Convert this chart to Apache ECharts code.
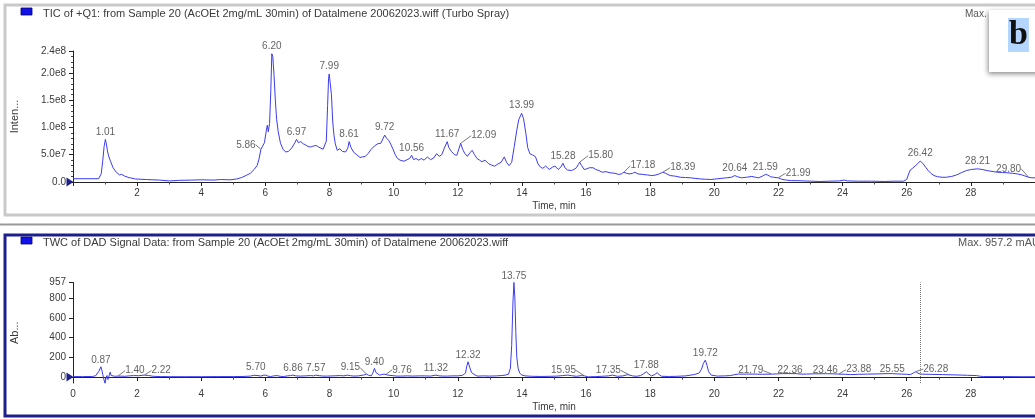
<!DOCTYPE html>
<html>
<head>
<meta charset="utf-8">
<script src="https://cdn.jsdelivr.net/npm/echarts@6/dist/echarts.min.js"></script>
<style>
  html, body { margin: 0; padding: 0; background: #fff; }
  #chart { width: 1035px; height: 419px; }
</style>
</head>
<body>
<div id="chart"></div>
<script>
// ---- TIC of +Q1 (Turbo Spray): [retention time (min), intensity in units of 1e7 counts]
const ticTrace = [
  [0.00,0.6],[0.40,0.6],[0.80,0.6],[0.88,1.5],[0.93,4.0],[0.97,6.5],[1.01,7.8],[1.04,7.0],[1.08,5.5],[1.12,4.6],
  [1.17,3.8],[1.25,2.6],[1.35,1.8],[1.45,1.3],[1.52,1.4],[1.60,1.1],[1.75,0.8],[1.95,0.55],[2.30,0.45],[2.70,0.35],
  [3.00,0.2],[3.30,0.3],[3.70,0.35],[4.00,0.4],[4.40,0.35],[4.60,0.45],[4.90,0.4],[5.10,0.55],[5.25,0.8],[5.40,1.2],
  [5.53,1.6],[5.65,2.3],[5.74,3.0],[5.80,4.2],[5.86,6.0],[5.92,6.3],[5.97,7.2],[6.03,9.5],[6.06,10.4],[6.09,9.2],
  [6.13,10.7],[6.17,17.0],[6.20,23.5],[6.23,23.0],[6.27,19.5],[6.31,15.0],[6.35,11.5],[6.40,9.2],[6.47,7.1],[6.55,6.0],
  [6.63,5.5],[6.72,5.6],[6.83,6.3],[6.92,7.2],[6.97,7.8],[7.03,7.2],[7.10,7.4],[7.18,7.0],[7.25,6.8],[7.33,6.5],
  [7.41,6.4],[7.50,6.6],[7.58,6.7],[7.66,6.4],[7.72,6.2],[7.80,6.0],[7.86,5.8],[7.90,7.5],[7.94,14.0],[7.97,19.0],
  [7.99,19.8],[8.03,19.6],[8.06,16.0],[8.10,11.0],[8.14,8.5],[8.18,7.0],[8.24,5.8],[8.32,6.1],[8.40,5.6],[8.50,5.5],
  [8.57,6.2],[8.61,7.4],[8.67,6.3],[8.76,5.4],[8.85,5.0],[8.95,4.5],[9.03,4.6],[9.12,4.7],[9.20,5.2],[9.30,6.0],
  [9.40,6.6],[9.50,7.0],[9.60,7.1],[9.66,6.9],[9.72,8.6],[9.78,8.0],[9.85,7.6],[9.92,6.8],[9.98,6.0],[10.05,5.0],
  [10.12,4.3],[10.20,4.0],[10.32,3.8],[10.42,4.1],[10.50,4.3],[10.56,4.9],[10.62,4.1],[10.70,4.3],[10.78,4.0],[10.86,4.3],
  [10.95,4.0],[11.05,4.6],[11.15,4.1],[11.25,4.4],[11.34,5.2],[11.42,4.7],[11.50,5.0],[11.58,6.2],[11.63,6.0],[11.67,7.4],
  [11.72,6.3],[11.80,5.6],[11.90,5.0],[11.97,4.9],[12.04,6.2],[12.09,7.1],[12.15,6.0],[12.22,5.2],[12.30,4.7],[12.38,5.4],
  [12.45,5.8],[12.52,5.0],[12.60,4.3],[12.68,4.0],[12.75,3.7],[12.85,4.0],[12.95,3.4],[13.05,3.1],[13.15,2.9],[13.25,3.3],
  [13.35,3.6],[13.45,4.6],[13.52,3.6],[13.60,3.0],[13.68,3.6],[13.76,6.5],[13.84,9.5],[13.90,11.4],[13.99,12.6],[14.05,11.6],
  [14.12,9.0],[14.18,6.3],[14.25,5.17],[14.33,4.96],[14.42,4.66],[14.50,3.33],[14.58,2.71],[14.65,2.51],[14.74,2.92],[14.85,2.3],
  [14.95,2.71],[15.03,2.92],[15.13,2.3],[15.21,2.71],[15.28,3.43],[15.34,2.61],[15.42,2.2],[15.54,2.1],[15.62,2.3],[15.70,2.61],
  [15.76,3.22],[15.80,3.63],[15.86,3.02],[15.94,2.3],[16.02,2.4],[16.10,2.61],[16.16,2.81],[16.22,2.61],[16.30,2.3],[16.40,2.1],
  [16.50,1.79],[16.62,1.89],[16.75,1.69],[16.90,1.59],[17.02,1.38],[17.10,1.48],[17.18,1.79],[17.26,1.59],[17.35,1.48],[17.45,1.59],
  [17.52,1.79],[17.62,1.48],[17.78,1.38],[17.92,1.28],[18.05,1.18],[18.18,1.28],[18.28,1.48],[18.39,1.79],[18.48,1.59],[18.62,1.18],
  [18.78,1.07],[18.94,0.87],[19.10,0.82],[19.26,0.77],[19.40,0.66],[19.57,0.56],[19.72,0.51],[19.89,0.46],[20.05,0.56],[20.21,0.66],
  [20.38,0.77],[20.53,0.87],[20.64,1.18],[20.72,0.97],[20.85,0.77],[21.00,0.87],[21.17,1.02],[21.28,0.87],[21.38,0.77],[21.50,1.07],
  [21.59,1.38],[21.67,1.28],[21.75,0.97],[21.85,0.87],[21.99,0.77],[22.10,0.51],[22.23,0.36],[22.40,0.25],[22.55,0.25],[22.80,0.2],
  [23.00,0.15],[23.30,0.1],[23.60,0.15],[23.90,0.2],[24.05,0.36],[24.15,0.2],[24.50,0.15],[24.90,0.15],[25.30,0.1],[25.60,0.15],
  [25.90,0.15],[26.00,0.46],[26.06,1.48],[26.11,2.2],[26.18,2.51],[26.26,2.92],[26.34,3.33],[26.42,3.84],[26.50,3.43],[26.59,2.71],
  [26.67,2.1],[26.75,1.59],[26.85,1.18],[26.96,0.97],[27.10,0.87],[27.23,0.87],[27.40,1.02],[27.55,1.28],[27.70,1.69],[27.86,2.1],
  [28.02,2.3],[28.21,2.41],[28.35,2.3],[28.50,2.1],[28.66,1.94],[28.82,1.79],[28.98,1.74],[29.13,1.69],[29.30,1.59],[29.45,1.48],
  [29.60,1.28],[29.70,1.07],[29.80,0.87],[29.90,0.77],[30.00,0.77]
];
// Labelled TIC peaks: retention time (min) and apex intensity (1e7 counts)
const ticPeakTimes   = [1.01, 5.86, 6.20, 6.97, 7.99, 8.61, 9.72, 10.56, 11.67, 12.09, 13.99, 15.28, 15.80, 17.18, 18.39, 20.64, 21.59, 21.99, 26.42, 28.21, 29.80];
const ticPeakHeights = [7.8,  6.0,  23.5, 7.8,  19.8, 7.4,  8.6,  4.9,   7.4,   7.1,   12.6,  3.43,  3.63,  1.79,  1.79,  1.18,  1.38,  0.77,  3.84,  2.41,  0.87];
const ticYTicks = [0, 5, 10, 15, 20, 24];

// ---- TWC of DAD signal: [retention time (min), absorbance (mAU)]
const dadTrace = [
  [0.00,5],[0.30,5],[0.60,6],[0.70,12],[0.76,20],[0.81,60],[0.87,104],[0.90,70],[0.93,25],[0.96,-20],
  [1.00,-64],[1.03,-10],[1.06,15],[1.09,-25],[1.13,20],[1.16,50],[1.19,15],[1.24,5],[1.32,8],[1.40,10],
  [1.50,9],[1.62,8],[1.75,12],[1.89,15],[2.05,14],[2.22,20],[2.35,16],[2.50,8],[2.72,5],[3.00,4],
  [3.50,4],[4.00,4],[4.50,5],[5.00,5],[5.30,6],[5.53,10],[5.64,18],[5.70,30],[5.77,15],[5.86,10],
  [5.93,18],[6.00,20],[6.08,10],[6.16,5],[6.26,12],[6.36,15],[6.46,8],[6.57,5],[6.68,12],[6.78,15],
  [6.86,20],[6.95,12],[7.09,10],[7.25,12],[7.41,15],[7.50,12],[7.57,20],[7.68,14],[7.80,10],[7.93,10],
  [8.10,12],[8.34,15],[8.45,12],[8.55,20],[8.65,14],[8.76,10],[8.90,12],[9.05,20],[9.15,30],[9.22,18],
  [9.30,12],[9.35,40],[9.40,88],[9.45,45],[9.50,25],[9.56,20],[9.63,25],[9.70,30],[9.76,28],[9.85,18],
  [9.95,15],[10.10,10],[10.22,10],[10.43,12],[10.60,10],[10.80,12],[10.95,12],[11.15,10],[11.32,20],[11.42,12],
  [11.55,10],[11.68,10],[11.85,12],[12.00,12],[12.15,18],[12.24,40],[12.28,110],[12.32,155],[12.37,100],[12.43,45],
  [12.55,18],[12.62,10],[12.80,12],[13.00,10],[13.20,12],[13.35,15],[13.48,20],[13.58,28],[13.64,90],[13.68,320],
  [13.72,760],[13.75,957.2],[13.78,800],[13.81,450],[13.84,200],[13.88,90],[13.93,40],[14.00,20],[14.10,12],[14.30,8],
  [14.60,6],[14.90,8],[15.10,10],[15.27,15],[15.43,20],[15.55,14],[15.70,8],[15.86,15],[15.95,12],[16.07,2],
  [16.30,5],[16.50,8],[16.70,12],[16.82,20],[16.98,8],[17.15,12],[17.30,25],[17.35,22],[17.45,12],[17.57,8],
  [17.70,15],[17.80,35],[17.88,54],[17.96,30],[18.04,12],[18.14,25],[18.22,45],[18.29,20],[18.36,8],[18.60,6],
  [18.84,8],[19.10,12],[19.37,25],[19.52,40],[19.60,80],[19.66,140],[19.72,172],[19.77,120],[19.82,55],[19.90,20],
  [19.95,12],[20.10,10],[20.32,12],[20.50,15],[20.64,25],[20.75,30],[21.00,30],[21.30,30],[21.50,28],[21.79,30],
  [21.95,32],[22.12,35],[22.36,35],[22.55,35],[22.70,30],[22.87,30],[23.10,33],[23.46,34],[23.70,33],[23.88,30],
  [24.10,28],[24.25,25],[24.50,28],[24.78,30],[25.10,32],[25.42,35],[25.55,35],[25.70,32],[25.85,30],[26.00,28],
  [26.11,25],[26.20,40],[26.28,55],[26.35,40],[26.43,30],[26.70,28],[27.12,25],[27.50,22],[27.90,18],[28.18,15],
  [28.30,8],[28.40,5],[29.00,5],[29.60,4],[30.00,4]
];
// Labelled DAD peaks: retention time (min) and apex absorbance (mAU)
const dadPeakTimes   = [0.87, 1.40, 2.22, 5.70, 6.86, 7.57, 9.15, 9.40, 9.76, 11.32, 12.32, 13.75, 15.95, 17.35, 17.88, 19.72, 21.79, 22.36, 23.46, 23.88, 25.55, 26.28];
const dadPeakHeights = [104,  10,   20,   30,   20,   20,   30,   88,   28,   20,    155,   957.2, 12,    22,    54,    172,   30,    35,    34,    30,    35,    55];
const dadYTicks = [0, 200, 400, 600, 800, 957.2];
const dadYMinorTicks = [-40, 40, 80, 120, 160, 240, 280, 320, 360, 440, 480, 520, 560, 640, 680, 720, 760, 840, 880, 920];

// Shared time axis
const timeLabelsTop = [2, 4, 6, 8, 10, 12, 14, 16, 18, 20, 22, 24, 26, 28];
const timeLabelsBottom = [0, 2, 4, 6, 8, 10, 12, 14, 16, 18, 20, 22, 24, 26, 28];
const cursorTime = 26.42;

// ---- styling
const FONT = 'Liberation Sans, Arial, sans-serif';
const TRACE = '#3b3bf2';
const TEXT = '#3a3a3a';
const NAVY = '#1e1e8c';

// label shifts (px) for peaks whose labels sit beside the apex with a short leader
const ticLabelShift = { '5.86': [-15, 3], '12.09': [23, 0], '15.80': [21, 1], '17.18': [19, 1], '18.39': [20, 3], '21.99': [20, 3], '29.80': [-20, -1] };
const dadLabelShift = { '1.40': [17, 1], '2.22': [17, 2], '9.15': [-16, 0], '9.76': [16, 2], '15.95': [-21, 1], '17.35': [-21, 2], '21.79': [-21, 3], '22.36': [0, 3], '23.46': [0, 3], '23.88': [20, 2], '25.55': [0, 2], '26.28': [20, 4] };

function peakItems(times, heights, shifts) {
  return times.map((t, i) => {
    const key = t.toFixed(2);
    const item = { value: [t, heights[i]] };
    const s = shifts[key];
    if (s && s[0] !== 0) item.labelLine = { show: true };
    return item;
  });
}

function peakSeries(times, heights, shifts, xIndex, yIndex, gap) {
  return {
    type: 'scatter',
    xAxisIndex: xIndex,
    yAxisIndex: yIndex,
    symbolSize: 1,
    itemStyle: { color: 'rgba(0,0,0,0)' },
    silent: true,
    z: 5,
    data: peakItems(times, heights, shifts),
    label: {
      show: true,
      position: 'top',
      distance: gap,
      fontSize: 10,
      fontFamily: FONT,
      color: TEXT,
      formatter: p => p.value[0].toFixed(2)
    },
    labelLine: { show: false, lineStyle: { color: '#555', width: 0.8 } },
    labelLayout: p => {
      const s = shifts[times[p.dataIndex].toFixed(2)];
      return s ? { dx: s[0], dy: s[1] } : {};
    }
  };
}

const dadMax = Math.max(...dadTrace.map(d => d[1]));

const baseX = {
  type: 'value',
  min: 0,
  max: 30,
  interval: 2,
  axisLine: { show: true, lineStyle: { color: '#222', width: 1 } },
  axisTick: { show: true, length: 4, lineStyle: { color: '#222' } },
  minorTick: { show: true, splitNumber: 2, length: 2.5, lineStyle: { color: '#444' } },
  splitLine: { show: false },
  nameLocation: 'middle',
  nameGap: 19,
  nameTextStyle: { fontSize: 10, fontFamily: FONT, color: TEXT }
};

const option = {
  animation: false,
  textStyle: { fontFamily: FONT },
  grid: [
    { left: 73, right: 0, top: 51, height: 131 },
    { left: 73, right: 0, top: 282.5, height: 100.5 }
  ],
  xAxis: [
    Object.assign({}, baseX, {
      gridIndex: 0, name: 'Time, min',
      axisLabel: { customValues: timeLabelsTop, fontSize: 10, color: TEXT, margin: 6, fontFamily: FONT }
    }),
    Object.assign({}, baseX, {
      gridIndex: 1, name: 'Time, min',
      axisLabel: { customValues: timeLabelsBottom, fontSize: 10, color: TEXT, margin: 6, fontFamily: FONT }
    })
  ],
  yAxis: [
    {
      gridIndex: 0, type: 'value', min: 0, max: 24, interval: 5,
      name: 'Inten...', nameLocation: 'middle', nameGap: 53, nameRotate: 90,
      nameTextStyle: { fontSize: 11, fontFamily: FONT, color: TEXT },
      axisLine: { show: true, lineStyle: { color: '#222' } },
      axisTick: { show: true, length: 4, lineStyle: { color: '#222' } },
      minorTick: { show: true, splitNumber: 5, length: 2, lineStyle: { color: '#444' } },
      splitLine: { show: false },
      axisLabel: {
        customValues: ticYTicks,
        fontSize: 10, color: TEXT, margin: 7, fontFamily: FONT,
        formatter: v => v === 0 ? '0.0' : (v >= 10 ? (v / 10).toFixed(1) + 'e8' : v.toFixed(1) + 'e7')
      }
    },
    {
      gridIndex: 1, type: 'value', min: -60, max: 957.2,
      name: 'Ab...', nameLocation: 'middle', nameGap: 53, nameRotate: 90,
      nameTextStyle: { fontSize: 11, fontFamily: FONT, color: TEXT },
      axisLine: { show: true, lineStyle: { color: '#222' } },
      axisTick: { show: true, length: 4, customValues: dadYTicks, lineStyle: { color: '#222' } },
      splitLine: { show: false },
      axisLabel: {
        customValues: dadYTicks,
        fontSize: 10, color: TEXT, margin: 7, fontFamily: FONT,
        formatter: v => String(Math.round(v))
      }
    },
    {
      gridIndex: 1, type: 'value', min: -60, max: 957.2,
      axisLine: { show: false },
      axisTick: { show: true, length: 2, customValues: dadYMinorTicks, lineStyle: { color: '#444' } },
      axisLabel: { show: false },
      splitLine: { show: false }
    }
  ],
  series: [
    {
      type: 'line', xAxisIndex: 0, yAxisIndex: 0,
      data: ticTrace, showSymbol: false, symbol: 'none',
      lineStyle: { color: TRACE, width: 1 }, silent: true,
      markPoint: {
        silent: true,
        data: [{ coord: [0, 0], symbol: 'triangle', symbolRotate: -90, symbolSize: [9, 7], symbolOffset: [-3, 0], itemStyle: { color: NAVY } }],
        label: { show: false }
      }
    },
    {
      type: 'line', xAxisIndex: 1, yAxisIndex: 1,
      data: dadTrace, showSymbol: false, symbol: 'none',
      lineStyle: { color: TRACE, width: 1 }, silent: true,
      markPoint: {
        silent: true,
        data: [{ coord: [0, 0], symbol: 'triangle', symbolRotate: -90, symbolSize: [9, 7], symbolOffset: [-3, 0], itemStyle: { color: NAVY } }],
        label: { show: false }
      },
      markLine: {
        silent: true, symbol: 'none',
        lineStyle: { color: '#777', type: 'dotted', width: 1 },
        label: { show: false },
        data: [{ xAxis: cursorTime }]
      }
    },
    peakSeries(ticPeakTimes, ticPeakHeights, ticLabelShift, 0, 0, 2),
    peakSeries(dadPeakTimes, dadPeakHeights, dadLabelShift, 1, 1, 1)
  ],
  graphic: [
    // panel frames
    { type: 'rect', shape: { x: 5, y: 5, width: 1040, height: 210 }, style: { fill: 'none', stroke: '#c9c9c9', lineWidth: 3 }, z: 1 },
    { type: 'line', shape: { x1: 0, y1: 224.5, x2: 1035, y2: 224.5 }, style: { stroke: '#9a9a9a', lineWidth: 2 }, z: 1 },
    { type: 'rect', shape: { x: 5, y: 235, width: 1040, height: 181 }, style: { fill: 'none', stroke: NAVY, lineWidth: 3 }, z: 1 },
    // panel headers
    { type: 'rect', shape: { x: 21, y: 8, width: 11, height: 7 }, style: { fill: '#1212e8', stroke: '#000070', lineWidth: 0.8 } },
    { type: 'text', x: 43, y: 14, style: { text: 'TIC of +Q1: from Sample 20 (AcOEt 2mg/mL 30min) of Datalmene 20062023.wiff (Turbo Spray)', font: '11px ' + FONT, fill: TEXT, verticalAlign: 'middle' } },
    { type: 'text', x: 965, y: 14, style: { text: 'Max.', font: '10px ' + FONT, fill: '#555', verticalAlign: 'middle' } },
    { type: 'rect', shape: { x: 21, y: 237, width: 11, height: 7 }, style: { fill: '#1212e8', stroke: '#000070', lineWidth: 0.8 } },
    { type: 'text', x: 43, y: 243, style: { text: 'TWC of DAD Signal Data: from Sample 20 (AcOEt 2mg/mL 30min) of Datalmene 20062023.wiff', font: '11px ' + FONT, fill: TEXT, verticalAlign: 'middle' } },
    { type: 'text', x: 958, y: 243, style: { text: 'Max. ' + dadMax.toFixed(1) + ' mAU', font: '11px ' + FONT, fill: '#555', verticalAlign: 'middle' } },
    // panel letter
    { type: 'rect', shape: { x: 989, y: 10, width: 60, height: 62 }, style: { fill: '#fff', shadowBlur: 5, shadowColor: 'rgba(0,0,0,0.45)', shadowOffsetX: -1, shadowOffsetY: 2 }, z: 20 },
    { type: 'text', x: 1008, y: 18, z: 21, style: { text: 'b', font: 'bold 34px Liberation Serif, DejaVu Serif, serif', fill: '#111', backgroundColor: '#b4d5fd', padding: [0, 1, 0, 1], lineHeight: 34 } }
  ]
};

const chart = echarts.init(document.getElementById('chart'), null, { renderer: 'canvas' });
chart.setOption(option);
</script>
</body>
</html>
